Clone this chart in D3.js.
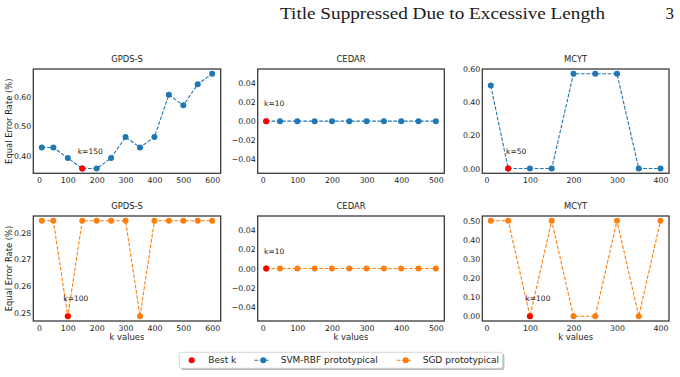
<!DOCTYPE html>
<html>
<head>
<meta charset="utf-8">
<script src="https://cdn.jsdelivr.net/npm/d3@7"></script>
<style>
  body { margin: 0; background: #fff; }
  text { font-family: "DejaVu Sans", sans-serif; fill: #222; }
</style>
</head>
<body>
<svg id="chart" width="680" height="377"></svg>
<script>
// k values per dataset
var kGpds = [10, 50, 100, 150, 200, 250, 300, 350, 400, 450, 500, 550, 600];
var kCedar = [10, 50, 100, 150, 200, 250, 300, 350, 400, 450, 500];
var kMcyt = [10, 50, 100, 150, 200, 250, 300, 350, 400];

// equal error rates, SVM-RBF prototypical (top row)
var svmGpds = [0.4286, 0.4286, 0.3929, 0.3571, 0.3571, 0.3929, 0.4643, 0.4286, 0.4643, 0.6071, 0.5714, 0.6429, 0.6786];
var svmCedar = [0, 0, 0, 0, 0, 0, 0, 0, 0, 0, 0];
var svmMcyt = [0.5, 0, 0, 0, 0.5714, 0.5714, 0.5714, 0, 0];

// equal error rates, SGD prototypical (bottom row)
var sgdGpds = [0.2845, 0.2845, 0.2486, 0.2845, 0.2845, 0.2845, 0.2845, 0.2486, 0.2845, 0.2845, 0.2845, 0.2845, 0.2845];
var sgdCedar = [0, 0, 0, 0, 0, 0, 0, 0, 0, 0, 0];
var sgdMcyt = [0.5, 0.5, 0, 0.5, 0, 0, 0.5, 0, 0.5];

// best k per panel
var bestSvm = [150, 10, 50];
var bestSgd = [100, 10, 100];

// tick labels
var xTicksGpds = [0, 100, 200, 300, 400, 500, 600];
var xTicksCedar = [0, 100, 200, 300, 400, 500];
var xTicksMcyt = [0, 100, 200, 300, 400];
var yTicksSvmGpds = [0.40, 0.50, 0.60];
var yTicksCedar = [-0.04, -0.02, 0.00, 0.02, 0.04];
var yTicksSvmMcyt = [0.00, 0.20, 0.40, 0.60];
var yTicksSgdGpds = [0.25, 0.26, 0.27, 0.28];
var yTicksSgdMcyt = [0.00, 0.10, 0.20, 0.30, 0.40, 0.50];

var names = ["GPDS-S", "CEDAR", "MCYT"];
var blue = "#1f77b4", orange = "#ff7f0e";

var panels = [
  { row: 0, col: 0, k: kGpds, v: svmGpds, best: bestSvm[0], xt: xTicksGpds, yt: yTicksSvmGpds, color: blue },
  { row: 0, col: 1, k: kCedar, v: svmCedar, best: bestSvm[1], xt: xTicksCedar, yt: yTicksCedar, color: blue },
  { row: 0, col: 2, k: kMcyt, v: svmMcyt, best: bestSvm[2], xt: xTicksMcyt, yt: yTicksSvmMcyt, color: blue },
  { row: 1, col: 0, k: kGpds, v: sgdGpds, best: bestSgd[0], xt: xTicksGpds, yt: yTicksSgdGpds, color: orange },
  { row: 1, col: 1, k: kCedar, v: sgdCedar, best: bestSgd[1], xt: xTicksCedar, yt: yTicksCedar, color: orange },
  { row: 1, col: 2, k: kMcyt, v: sgdMcyt, best: bestSgd[2], xt: xTicksMcyt, yt: yTicksSgdMcyt, color: orange }
];

// panel frames
var colX = [[33.3, 220.7], [257.7, 444.3], [482.3, 669]];
var rowY = [[69, 173.3], [216, 321]];

var svg = d3.select("#chart");

// page header
svg.append("text").attr("x", 280).attr("y", 18.5)
  .attr("textLength", 325).attr("lengthAdjust", "spacingAndGlyphs")
  .style("font-family", "'Liberation Serif', serif").style("font-size", "17px").style("fill", "#1a1a1a")
  .text("Title Suppressed Due to Excessive Length");
svg.append("text").attr("x", 665.5).attr("y", 18.5)
  .style("font-family", "'Liberation Serif', serif").style("font-size", "17px").style("fill", "#1a1a1a")
  .text("3");

// matplotlib-like 5% margins
function padded(ext) {
  if (ext[0] === ext[1]) return [ext[0] - 0.055, ext[1] + 0.055];
  var m = (ext[1] - ext[0]) * 0.05;
  return [ext[0] - m, ext[1] + m];
}

var fmt = d3.format(".2f");

panels.forEach(function (p) {
  var x0 = colX[p.col][0], x1 = colX[p.col][1];
  var y0 = rowY[p.row][0], y1 = rowY[p.row][1];
  var x = d3.scaleLinear().domain(padded(d3.extent(p.k))).range([x0, x1]);
  var y = d3.scaleLinear().domain(padded(d3.extent(p.v))).range([y1, y0]);
  var pts = p.k.map(function (k, i) { return { k: k, v: p.v[i] }; });
  var g = svg.append("g");

  g.append("text").attr("x", (x0 + x1) / 2).attr("y", y0 - 7.5)
    .attr("text-anchor", "middle").style("font-size", "8.4px").text(names[p.col]);

  var xa = g.append("g").attr("transform", "translate(0," + y1 + ")")
    .call(d3.axisBottom(x).tickValues(p.xt).tickSize(0).tickPadding(4).tickFormat(d3.format("d")));
  var ya = g.append("g").attr("transform", "translate(" + x0 + ",0)")
    .call(d3.axisLeft(y).tickValues(p.yt).tickSize(0).tickPadding(2).tickFormat(fmt));
  [xa, ya].forEach(function (a) {
    a.select(".domain").remove();
    a.selectAll("text").style("font-size", "7.8px").style("fill", "#222")
      .style("font-family", "'DejaVu Sans', sans-serif");
  });

  var line = d3.line().x(function (d) { return x(d.k); }).y(function (d) { return y(d.v); });
  g.append("path").datum(pts).attr("d", line)
    .attr("fill", "none").attr("stroke", p.color).attr("stroke-width", 1.1)
    .attr("stroke-dasharray", "3.7,1.6");
  g.selectAll("circle.pt").data(pts).join("circle").attr("class", "pt")
    .attr("cx", function (d) { return x(d.k); }).attr("cy", function (d) { return y(d.v); })
    .attr("r", 3).attr("fill", p.color);

  var bi = p.k.indexOf(p.best);
  g.append("circle").attr("cx", x(p.best)).attr("cy", y(p.v[bi])).attr("r", 3).attr("fill", "red");
  g.append("text").attr("x", x(p.best) + 8).attr("y", y(p.v[bi]) - 17.5)
    .attr("text-anchor", "middle").attr("dominant-baseline", "central")
    .style("font-size", "7.5px").text("k=" + p.best);

  g.append("rect").attr("x", x0).attr("y", y0).attr("width", x1 - x0).attr("height", y1 - y0)
    .attr("fill", "none").attr("stroke", "#3a3a3a").attr("stroke-width", 1.3);

  if (p.col === 0) {
    g.append("text").attr("transform", "translate(8.5," + ((y0 + y1) / 2) + ") rotate(-90)")
      .attr("text-anchor", "middle").attr("dominant-baseline", "central")
      .style("font-size", "8.4px").text("Equal Error Rate (%)");
  }
  if (p.row === 1) {
    g.append("text").attr("x", (x0 + x1) / 2).attr("y", 336.7)
      .attr("text-anchor", "middle").attr("dominant-baseline", "central")
      .style("font-size", "8.4px").text("k values");
  }
});

// legend
var lg = svg.append("g");
lg.append("rect").attr("x", 181).attr("y", 354).attr("width", 323.4).attr("height", 16)
  .attr("rx", 2).attr("fill", "#bbb");
lg.append("rect").attr("x", 179.3).attr("y", 352.3).attr("width", 323.4).attr("height", 16)
  .attr("rx", 2).attr("fill", "#fff").attr("stroke", "#ccc").attr("stroke-width", 0.8);
var ly = 360.3;
lg.append("circle").attr("cx", 191.7).attr("cy", ly).attr("r", 3).attr("fill", "red");
lg.append("text").attr("x", 208.3).attr("y", ly).attr("dominant-baseline", "central")
  .style("font-size", "9px").text("Best k");
[[254.3, 280.7, blue, "SVM-RBF prototypical"], [396.7, 422.7, orange, "SGD prototypical"]].forEach(function (e) {
  lg.append("line").attr("x1", e[0]).attr("x2", e[0] + 16).attr("y1", ly).attr("y2", ly)
    .attr("stroke", e[2]).attr("stroke-width", 1.1).attr("stroke-dasharray", "3.7,1.6");
  lg.append("circle").attr("cx", e[0] + 9).attr("cy", ly).attr("r", 3).attr("fill", e[2]);
  lg.append("text").attr("x", e[1]).attr("y", ly).attr("dominant-baseline", "central")
    .style("font-size", "9px").text(e[3]);
});
</script>
</body>
</html>
